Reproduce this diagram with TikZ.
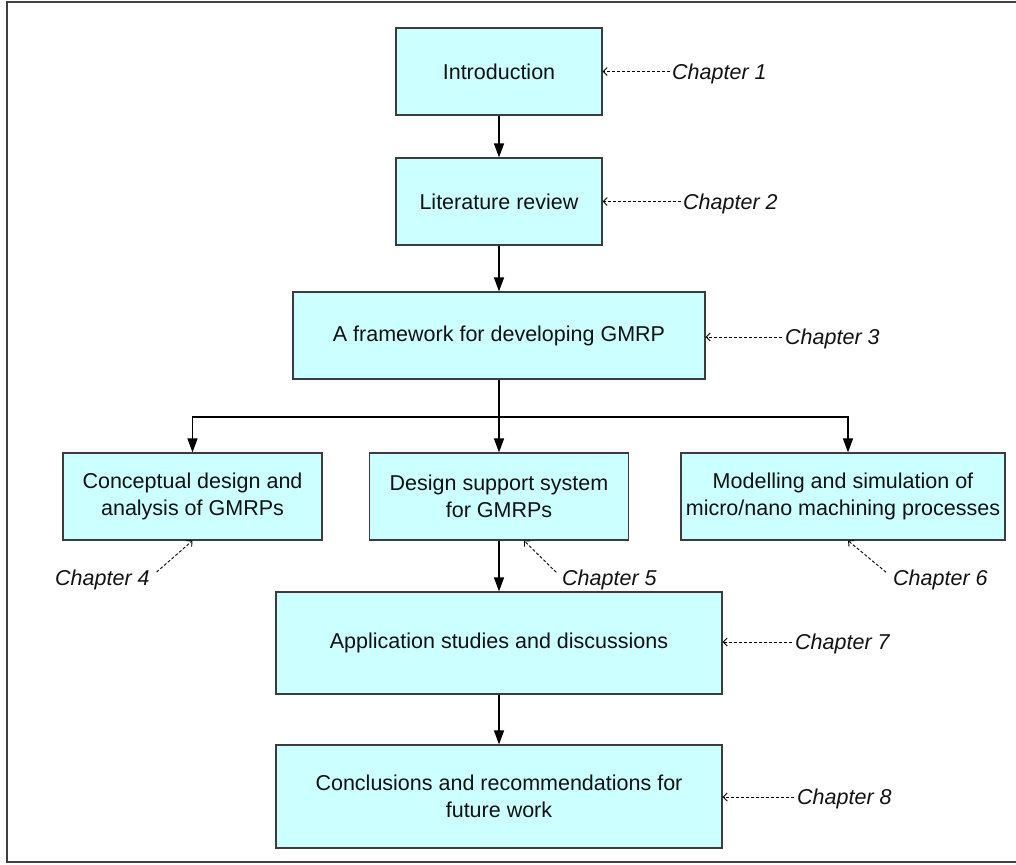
\documentclass[tikz,border=0pt]{standalone}
\usepackage{fontspec}
\setmainfont{Liberation Sans}
\usetikzlibrary{arrows.meta}
\definecolor{boxfill}{HTML}{CCFFFF}
\definecolor{boxline}{HTML}{3C3C3C}
\definecolor{ink}{HTML}{111111}
\begin{document}
\begin{tikzpicture}[x=1pt,y=-1pt,
  stage/.style={draw=boxline,line width=1.2pt,fill=boxfill,inner sep=0pt,
    align=center,text=ink,font=\fontsize{21.5}{26.7}\selectfont},
  flow/.style={line width=1.3pt,-{Triangle[length=14pt,width=10pt]}},
  chap/.style={font=\fontsize{21.5}{26}\selectfont\itshape,text=ink,
    inner sep=0pt,text height=15.5pt,text depth=0pt},
  cref/.style={dash pattern=on 3pt off 2pt,line width=0.9pt,
    -{Straight Barb[length=4pt,width=8pt]}}]
\useasboundingbox (0,0) rectangle (1016,864);

% page frame
\draw[line width=1.6pt,draw=black!75] (1016,2) -- (7,2) -- (7,862) -- (1016,862);

% chapter stages
\node[stage,minimum width=206,minimum height=87] (intro) at (499,71.5) {Introduction};
\node[stage,minimum width=206,minimum height=87] (lit) at (499,201.5) {Literature review};
\node[stage,minimum width=412,minimum height=87] (frame) at (499,335.5) {A framework for developing GMRP};
\node[stage,minimum width=259,minimum height=87] (concept) at (192.5,496.5) {Conceptual design and\\analysis of GMRPs};
\node[stage,minimum width=259,minimum height=87] (dss) at (499,496.5) {Design support system\\for GMRPs};
\node[stage,minimum width=324,minimum height=87] (model) at (843,496.5) {Modelling and simulation of\\micro/nano machining processes};
\node[stage,minimum width=446,minimum height=102] (app) at (499,643) {Application studies and discussions};
\node[stage,minimum width=446,minimum height=103] (concl) at (499,796.5) {Conclusions and recommendations for\\future work};

% chapter labels
\node[chap,anchor=west] (ch1) at (672,71.5) {Chapter 1};
\node[chap,anchor=west] (ch2) at (683,201.5) {Chapter 2};
\node[chap,anchor=west] (ch3) at (785,337) {Chapter 3};
\node[chap,anchor=west] (ch4) at (55,578) {Chapter 4};
\node[chap,anchor=west] (ch5) at (562,578) {Chapter 5};
\node[chap,anchor=west] (ch6) at (893,578) {Chapter 6};
\node[chap,anchor=west] (ch7) at (795,642) {Chapter 7};
\node[chap,anchor=west] (ch8) at (797,797) {Chapter 8};

% main flow
\coordinate (split) at (499,417);
\draw[flow] (intro.south) -- (lit.north);
\draw[flow] (lit.south) -- (frame.north);
\draw[flow] (frame.south) -- (dss.north);
\draw[flow] (split) -| (concept.north);
\draw[flow] (split) -| ([xshift=5pt]model.north);
\draw[flow] (dss.south) -- (app.north);
\draw[flow] (app.south) -- (concl.north);

% chapter references
\draw[cref,shorten <=2pt] (ch1.west) -- (ch1.west -| intro.east);
\draw[cref,shorten <=2pt] (ch2.west) -- (ch2.west -| lit.east);
\draw[cref,shorten <=3pt] (ch3.west) -- (ch3.west -| frame.east);
\draw[cref,shorten <=9pt] (ch4.east) -- (concept.south);
\draw[cref,shorten <=8pt] (ch5.west) -- ([xshift=25pt]dss.south);
\draw[cref,shorten <=9pt] (ch6.west) -- ([xshift=5pt]model.south);
\draw[cref,shorten <=3pt] (ch7.west) -- (ch7.west -| app.east);
\draw[cref,shorten <=3pt] (ch8.west) -- (ch8.west -| concl.east);
\end{tikzpicture}
\end{document}
